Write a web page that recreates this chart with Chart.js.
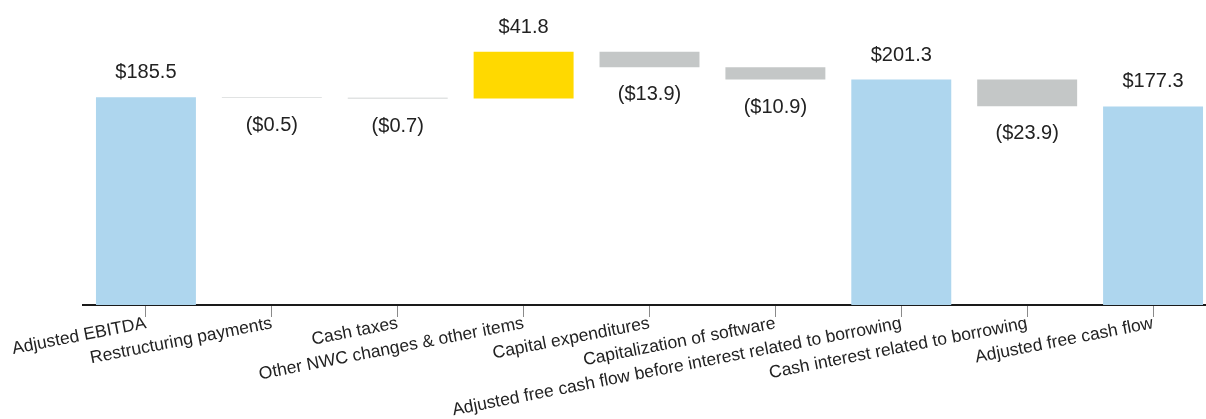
<!DOCTYPE html>
<html>
<head>
<meta charset="utf-8">
<script src="https://cdn.jsdelivr.net/npm/chart.js@4.4.1/dist/chart.umd.min.js"></script>
<style>
  html, body { margin: 0; padding: 0; overflow: hidden; background: #ffffff; }
  #wrap { position: absolute; left: 0; top: 0; width: 1216px; height: 419px; }
</style>
</head>
<body>
<div id="wrap"><canvas id="bridge"></canvas></div>
<script>
// Cash flow bridge: from Adjusted EBITDA to Adjusted free cash flow ($ millions)
const categories = [
  'Adjusted EBITDA',
  'Restructuring payments',
  'Cash taxes',
  'Other NWC changes & other items',
  'Capital expenditures',
  'Capitalization of software',
  'Adjusted free cash flow before interest related to borrowing',
  'Cash interest related to borrowing',
  'Adjusted free cash flow'
];
const amounts = [185.5, -0.5, -0.7, 41.8, -13.9, -10.9, 201.3, -23.9, 177.3];
const isTotal = [true, false, false, false, false, false, true, false, true];

const COLOR_TOTAL = '#aed6ee';
const COLOR_UP = '#ffd900';
const COLOR_DOWN = '#c4c7c7';

// Floating ranges: totals stand on zero, steps hang off the running total
const ranges = [];
let running = 0;
amounts.forEach((v, i) => {
  if (isTotal[i]) {
    ranges.push([0, v]);
    running = v;
  } else {
    ranges.push([running, running + v]);
    running += v;
  }
});

const barColors = amounts.map((v, i) => isTotal[i] ? COLOR_TOTAL : (v >= 0 ? COLOR_UP : COLOR_DOWN));

function fmt(v) {
  return v < 0 ? '($' + (-v).toFixed(1) + ')' : '$' + v.toFixed(1);
}

// Value captions: above the bar for totals and increases, below for decreases
const valueLabels = {
  id: 'valueLabels',
  afterDatasetsDraw(chart) {
    const ctx = chart.ctx;
    const meta = chart.getDatasetMeta(0);
    ctx.save();
    ctx.font = '20px "Liberation Sans", Arial, sans-serif';
    ctx.fillStyle = '#222222';
    ctx.textAlign = 'center';
    ctx.textBaseline = 'alphabetic';
    meta.data.forEach((bar, i) => {
      const top = Math.min(bar.y, bar.base);
      const bottom = Math.max(bar.y, bar.base);
      const v = amounts[i];
      if (v >= 0) {
        ctx.fillText(fmt(v), bar.x, top - 19);
      } else {
        ctx.fillText(fmt(v), bar.x, bottom + 33);
      }
    });
    ctx.restore();
  }
};

new Chart(document.getElementById('bridge'), {
  type: 'bar',
  data: {
    labels: categories,
    datasets: [{
      data: ranges,
      backgroundColor: barColors,
      borderWidth: 0,
      borderSkipped: false,
      categoryPercentage: 1.0,
      barPercentage: 0.794
    }]
  },
  options: {
    responsive: true,
    maintainAspectRatio: false,
    animation: false,
    devicePixelRatio: 1,
    layout: { padding: { top: 25, left: 83, right: 0, bottom: 0 } },
    plugins: {
      legend: { display: false },
      tooltip: { enabled: false },
      title: { display: false }
    },
    scales: {
      x: {
        type: 'category',
        offset: true,
        grid: {
          display: true,
          offset: false,
          drawOnChartArea: false,
          drawTicks: true,
          tickLength: 12,
          color: '#8a8a8a',
          lineWidth: 1
        },
        border: { display: true, color: '#1a1a1a', width: 2 },
        ticks: {
          autoSkip: false,
          minRotation: 11,
          maxRotation: 11,
          padding: -4,
          color: '#222222',
          font: { family: '"Liberation Sans", Arial, sans-serif', size: 17.5 }
        },
        afterFit(scale) { scale.height = 114; }
      },
      y: {
        display: false,
        min: 0,
        max: 250
      }
    }
  },
  plugins: [valueLabels]
});
</script>
</body>
</html>
